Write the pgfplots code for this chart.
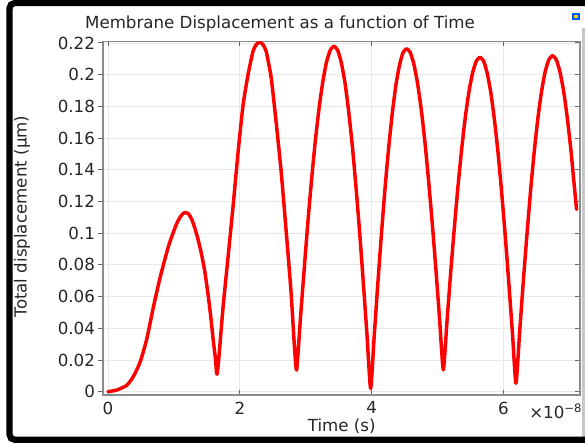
\documentclass[border=0pt]{standalone}
\usepackage{fontspec}
\setmainfont{DejaVu Sans}
\usepackage{pgfplots}
\usepackage{pgfplotstable}
\pgfplotsset{compat=1.18}

\pgfplotstableread{
t y
0 0
0.13 0.001
0.284 0.004
0.384 0.0095
0.486 0.0185
0.587 0.0330
0.687 0.0530
0.789 0.0718
0.891 0.0878
0.94 0.0946
0.991 0.1005
1.04 0.1058
1.093 0.1100
1.13 0.1120
1.168 0.1130
1.22 0.1122
1.27 0.1088
1.32 0.1028
1.37 0.0955
1.42 0.0865
1.47 0.0755
1.522 0.0600
1.56 0.0470
1.598 0.0320
1.63 0.0210
1.659 0.0116
1.749 0.0547
1.825 0.0863
1.90 0.118
1.975 0.1516
2.05 0.181
2.125 0.200
2.20 0.2147
2.25 0.2190
2.30 0.2205
2.35 0.2190
2.40 0.2147
2.476 0.198
2.55 0.1705
2.627 0.139
2.70 0.103
2.777 0.063
2.827 0.0295
2.862 0.0137
2.919 0.0457
2.976 0.0768
3.032 0.1065
3.089 0.1338
3.146 0.1582
3.203 0.1790
3.260 0.1957
3.316 0.2080
3.373 0.2155
3.43 0.2180
3.486 0.2153
3.541 0.2074
3.597 0.1945
3.652 0.1767
3.708 0.1547
3.763 0.1290
3.819 0.1001
3.874 0.0687
3.930 0.0358
3.985 0.0020
4.040 0.0355
4.094 0.0682
4.149 0.0993
4.203 0.1280
4.258 0.1536
4.313 0.1754
4.367 0.1930
4.422 0.2059
4.476 0.2138
4.531 0.2164
4.587 0.2139
4.642 0.2065
4.698 0.1943
4.754 0.1777
4.810 0.1570
4.865 0.1328
4.921 0.1057
4.977 0.0763
5.032 0.0454
5.088 0.0137
5.144 0.0446
5.199 0.0747
5.255 0.1033
5.311 0.1297
5.367 0.1532
5.422 0.1733
5.478 0.1895
5.534 0.2014
5.589 0.2086
5.645 0.2110
5.700 0.2085
5.754 0.2009
5.809 0.1886
5.863 0.1717
5.918 0.1508
5.972 0.1262
6.027 0.0987
6.081 0.0689
6.136 0.0375
6.190 0.0053
6.246 0.0376
6.301 0.0692
6.357 0.0991
6.412 0.1268
6.468 0.1515
6.523 0.1725
6.579 0.1895
6.634 0.2019
6.690 0.2095
6.745 0.2120
6.801 0.2095
6.856 0.2021
6.912 0.1900
6.967 0.1734
7.023 0.1528
7.078 0.1287
7.11 0.1150
}\disp

\newcommand{\lab}{\fontsize{12.5}{15}\selectfont}

\begin{document}
\begin{tikzpicture}
\useasboundingbox (0,0) rectangle (438.75pt,-332.25pt);
\fill[white] (0,0) rectangle (438.75pt,-332.25pt);
\pgfplotsset{base/.style={
  width=357.75pt, height=265pt, scale only axis,
  xmin=-0.076, xmax=7.162, ymin=-0.0021, ymax=0.2208,
  at={(77.25pt,-296.25pt)}, anchor=south west,
  scaled ticks=false,
  /pgf/number format/assume math mode=true,
  tick label style={font=\lab, text=black!85},
  ytick={0,0.02,0.04,0.06,0.08,0.1,0.12,0.14,0.16,0.18,0.2,0.22},
  major tick length=3.5pt,
  tick style={draw=black!60, line width=0.7pt},
}}
\begin{axis}[base,
  tick align=inside,
  xtick={0,2,4,6}, xticklabels={0,2,4,6},
  xtick pos=both, ytick pos=right, yticklabels={},
  grid=major, major grid style={draw=black!9, line width=0.6pt},
  axis line style={draw=black!45, line width=0.9pt},
  xticklabel style={yshift=-1.5pt},
]
\addplot[red, line width=2.6pt, line join=round, line cap=round, smooth, tension=0.35] table[x=t,y=y] {\disp};
\end{axis}
\begin{axis}[base,
  tick align=outside,
  xtick=\empty, ytick pos=left,
  yticklabels={0,0.02,0.04,0.06,0.08,0.1,0.12,0.14,0.16,0.18,0.2,0.22},
  axis line style={draw=none},
  yticklabel style={xshift=1pt},
]
\end{axis}
\begin{scope}[x=0.75pt,y=-0.75pt]
\node[font=\lab, text=black!85] at (280,24) {Membrane Displacement as a function of Time};
\node[font=\lab, text=black!85, rotate=90] at (22,216.5) {Total displacement (µm)};
\node[font=\lab, text=black!85] at (341.7,426.7) {Time (s)};
\node[font=\lab, text=black!85, anchor=west, inner sep=0pt] at (529,411) {×10\textsuperscript{−8}};
\fill[black!22] (582,28) rectangle (585,437);
\draw[black, line width=4.7pt, rounded corners=4pt] (590,3) -- (9.5,3) -- (9.5,439.8) -- (590,439.8);
\fill[blue!65!cyan] (572,13) rectangle (580,20);
\fill[yellow!70!orange] (574,15) rectangle (578,18);
\end{scope}
\end{tikzpicture}
\end{document}
